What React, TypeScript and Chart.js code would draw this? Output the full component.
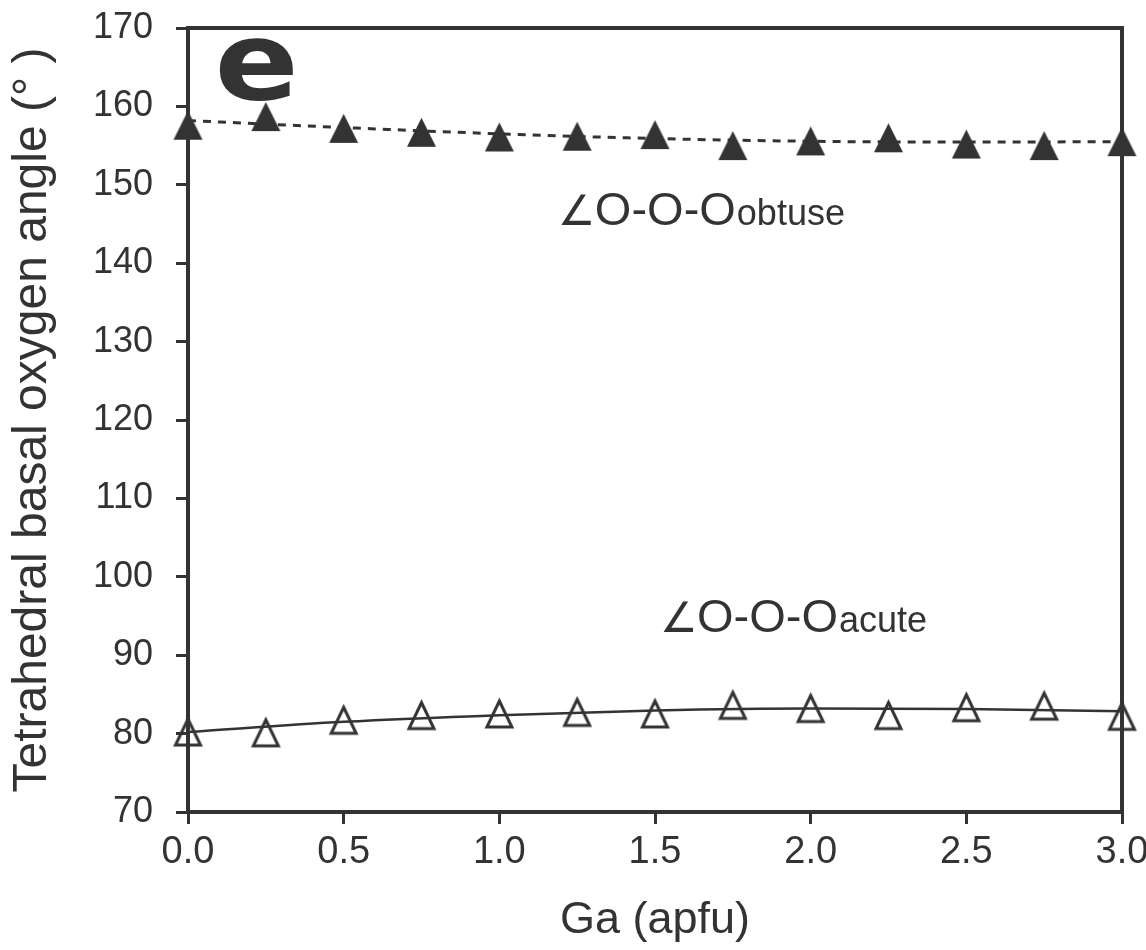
import React, { useEffect, useRef } from 'react';
import { Chart, registerables } from 'chart.js';

Chart.register(...registerables);

// ---- data ----
const gaApfu = [0, 0.25, 0.5, 0.75, 1.0, 1.25, 1.5, 1.75, 2.0, 2.25, 2.5, 2.75, 3.0];
const obtuseAngle = [157.6, 158.7, 157.2, 156.7, 156.1, 156.2, 156.4, 155.0, 155.6, 156.0, 155.2, 155.0, 155.5];
const acuteAngle = [80.2, 80.1, 81.7, 82.3, 82.5, 82.7, 82.5, 83.6, 83.2, 82.3, 83.3, 83.5, 82.2];
const fitGa = [0, 0.5, 1.0, 1.5, 2.0, 2.5, 3.0];
const obtuseFit = [158.2, 157.3, 156.5, 155.9, 155.55, 155.45, 155.5];
const acuteFit = [80.2, 81.5, 82.35, 82.95, 83.2, 83.15, 82.85];

const xMin = 0, xMax = 3, xStep = 0.5;
const yMin = 70, yMax = 170, yStep = 10;

const xTitle = 'Ga (apfu)';
const yTitle = 'Tetrahedral basal oxygen angle (° )';
const panelLabel = { text: 'e', x: 0.085, y: 160.9 };
const obtuseLabel = { angle: '∠', main: 'O-O-O', sub: 'obtuse', x: 1.188, y: 144.9 };
const acuteLabel = { angle: '∠', main: 'O-O-O', sub: 'acute', x: 1.516, y: 92.96 };

const INK = '#333333';
const FONT = '"Liberation Sans", Arial, Helvetica, sans-serif';

function triangle(w: number, h: number, filled: boolean, lw: number): HTMLCanvasElement {
  const pad = filled ? 1 : Math.ceil(lw * 2);
  const c = document.createElement('canvas');
  c.width = w + pad * 2;
  c.height = h + pad * 2;
  const ctx = c.getContext('2d')!;
  ctx.beginPath();
  ctx.moveTo(c.width / 2, pad);
  ctx.lineTo(pad + w, pad + h);
  ctx.lineTo(pad, pad + h);
  ctx.closePath();
  if (filled) {
    ctx.fillStyle = INK;
    ctx.fill();
  } else {
    ctx.lineWidth = lw;
    ctx.lineJoin = 'miter';
    ctx.strokeStyle = INK;
    ctx.stroke();
  }
  return c;
}

const framePlugin = {
  id: 'frameAndText',
  afterDatasetsDraw(chart: any) {
    const { ctx, chartArea } = chart;
    const xs = chart.scales.x;
    const ys = chart.scales.y;
    ctx.save();
    // top and right frame lines
    ctx.strokeStyle = INK;
    ctx.lineWidth = 4;
    ctx.beginPath();
    ctx.moveTo(chartArea.left - 2, chartArea.top);
    ctx.lineTo(chartArea.right, chartArea.top);
    ctx.lineTo(chartArea.right, chartArea.bottom + 2);
    ctx.stroke();

    ctx.fillStyle = INK;
    ctx.textBaseline = 'alphabetic';
    ctx.textAlign = 'left';

    // panel label
    ctx.save();
    ctx.translate(xs.getPixelForValue(panelLabel.x), ys.getPixelForValue(panelLabel.y));
    ctx.scale(1.15, 1);
    ctx.font = `bold 108px "DejaVu Sans", ${FONT}`;
    ctx.fillText(panelLabel.text, 0, 0);
    ctx.restore();

    for (const lab of [obtuseLabel, acuteLabel]) {
      const px = xs.getPixelForValue(lab.x);
      const py = ys.getPixelForValue(lab.y);
      ctx.font = `42px "DejaVu Sans", ${FONT}`;
      ctx.fillText(lab.angle, px, py);
      const ox = px + 37;
      ctx.font = `47px ${FONT}`;
      ctx.fillText(lab.main, ox, py);
      const w = ctx.measureText(lab.main).width;
      ctx.font = `36px ${FONT}`;
      ctx.fillText(lab.sub, ox + w + 1, py);
    }
    ctx.restore();
  },
};

export default function App() {
  const ref = useRef<HTMLCanvasElement | null>(null);

  useEffect(() => {
    if (!ref.current) return;
    const filledTri = triangle(29, 29, true, 0);
    const openTri = triangle(25, 26, false, 3);

    const chart = new Chart(ref.current, {
      type: 'scatter',
      data: {
        datasets: [
          {
            label: 'obtuse',
            data: gaApfu.map((x, i) => ({ x, y: obtuseAngle[i] })),
            pointStyle: filledTri as any,
            pointRadius: 14,
            showLine: false,
            clip: false as any,
          },
          {
            label: 'acute',
            data: gaApfu.map((x, i) => ({ x, y: acuteAngle[i] })),
            pointStyle: openTri as any,
            pointRadius: 14,
            showLine: false,
            clip: false as any,
          },
          {
            label: 'obtuse fit',
            data: fitGa.map((x, i) => ({ x, y: obtuseFit[i] })),
            showLine: true,
            pointRadius: 0,
            borderColor: INK,
            borderWidth: 3,
            borderDash: [8, 7],
            cubicInterpolationMode: 'monotone',
            fill: false,
          },
          {
            label: 'acute fit',
            data: fitGa.map((x, i) => ({ x, y: acuteFit[i] })),
            showLine: true,
            pointRadius: 0,
            borderColor: INK,
            borderWidth: 2.5,
            cubicInterpolationMode: 'monotone',
            fill: false,
          },
        ],
      },
      options: {
        animation: false,
        responsive: false,
        maintainAspectRatio: false,
        layout: { padding: { top: 28, right: 24, left: 0, bottom: 0 } },
        plugins: {
          legend: { display: false },
          tooltip: { enabled: false },
          title: { display: false },
        },
        scales: {
          x: {
            type: 'linear',
            min: xMin,
            max: xMax,
            afterFit: (s: any) => {
              s.height = 138;
              s.paddingLeft = 0;
              s.paddingRight = 0;
            },
            border: { display: true, color: INK, width: 4 },
            grid: { drawOnChartArea: false, drawTicks: true, tickLength: 12, tickWidth: 3, tickColor: INK },
            ticks: {
              stepSize: xStep,
              color: INK,
              font: { family: FONT, size: 38 },
              padding: 6,
              maxRotation: 0,
              callback: (v: any) => Number(v).toFixed(1),
            },
            title: {
              display: true,
              text: xTitle,
              color: INK,
              font: { family: FONT, size: 45 },
              padding: { top: 0, bottom: 2 },
            },
          },
          y: {
            type: 'linear',
            min: yMin,
            max: yMax,
            afterFit: (s: any) => {
              s.width = 188;
              s.paddingTop = 0;
              s.paddingBottom = 0;
            },
            border: { display: true, color: INK, width: 4 },
            grid: { drawOnChartArea: false, drawTicks: true, tickLength: 12, tickWidth: 3, tickColor: INK },
            ticks: {
              stepSize: yStep,
              color: INK,
              font: { family: FONT, size: 36 },
              padding: 23,
            },
            title: {
              display: true,
              text: yTitle,
              color: INK,
              font: { family: FONT, size: 48 },
              padding: { top: 4, bottom: 0 },
            },
          },
        },
      },
      plugins: [framePlugin],
    });
    return () => chart.destroy();
  }, []);

  return (
    <div style={{ position: 'fixed', left: 0, top: 0, width: 1146, height: 950, background: '#fff' }}>
      <canvas ref={ref} width={1146} height={950} style={{ width: 1146, height: 950 }} />
    </div>
  );
}
